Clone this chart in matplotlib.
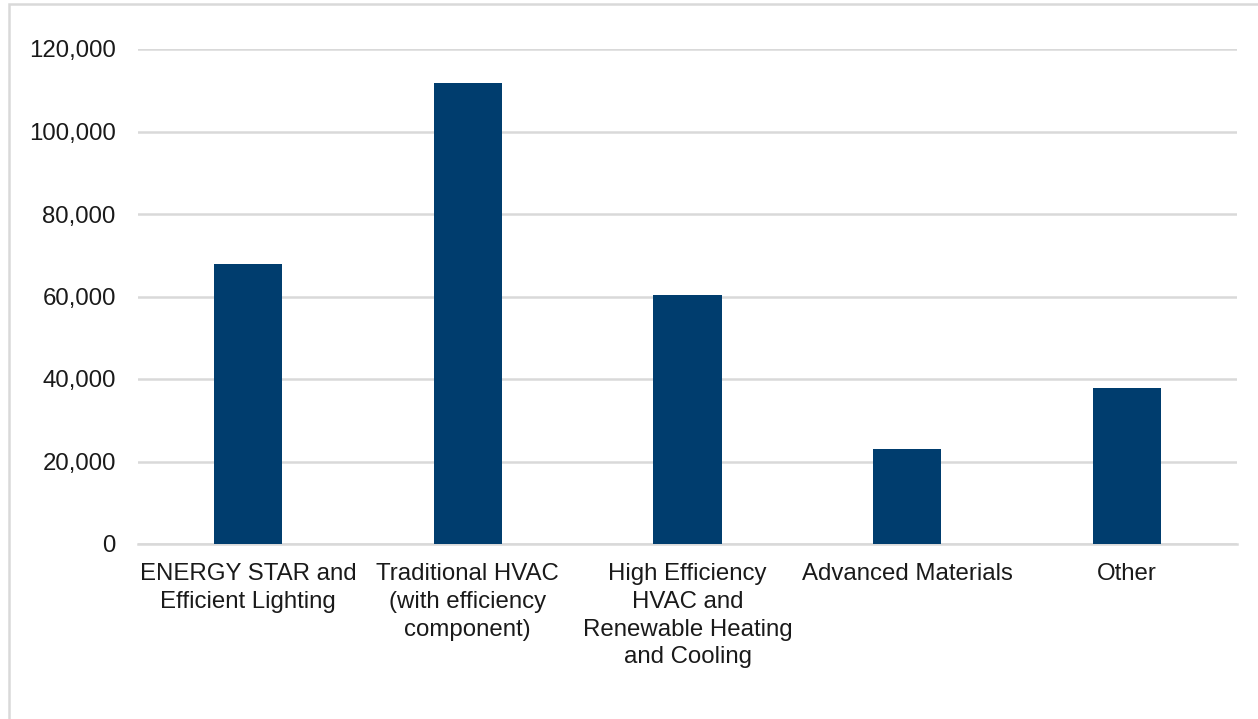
import matplotlib
matplotlib.use('Agg')
import matplotlib.pyplot as plt
from matplotlib.patches import Rectangle
from matplotlib.ticker import FuncFormatter

categories = [
    "ENERGY STAR and\nEfficient Lighting",
    "Traditional HVAC\n(with efficiency\ncomponent)",
    "High Efficiency\nHVAC and\nRenewable Heating\nand Cooling",
    "Advanced Materials",
    "Other",
]
values = [67900, 111800, 60400, 23000, 37800]
yticks = [0, 20000, 40000, 60000, 80000, 100000, 120000]

plt.rcParams['font.family'] = ['Liberation Sans', 'DejaVu Sans']

fig = plt.figure(figsize=(12.58, 7.19), dpi=100)
ax = fig.add_axes([138 / 1258, 1 - 544 / 719, 1099 / 1258, 495 / 719])

# light grey frame around the chart area
fig.patches.append(Rectangle((9 / 1258, -0.05), 1.1, 1 - 4 / 719 + 0.05,
                             transform=fig.transFigure, fill=False,
                             edgecolor='#d9d9d9', linewidth=1.8))

x = range(len(categories))
ax.bar(x, values, width=0.31, color='#003d6e', zorder=3)

ax.set_xlim(-0.5, len(categories) - 0.5)
ax.set_ylim(0, 120000)
ax.set_yticks(yticks)
ax.yaxis.set_major_formatter(FuncFormatter(lambda v, p: f"{int(v):,}"))
ax.set_xticks(list(x))
ax.set_xticklabels(categories, fontsize=17.3, color='#1a1a1a', linespacing=1.33)
ax.tick_params(axis='y', length=0, pad=16, labelsize=17.3, labelcolor='#1a1a1a')
ax.tick_params(axis='x', length=0, pad=14)

ax.grid(axis='y', color='#d9d9d9', linewidth=1.8, zorder=0)
for s in ['top', 'right', 'left']:
    ax.spines[s].set_visible(False)
ax.spines['bottom'].set_color('#d9d9d9')
ax.spines['bottom'].set_linewidth(1.8)

fig.savefig('out.png', dpi=100)
